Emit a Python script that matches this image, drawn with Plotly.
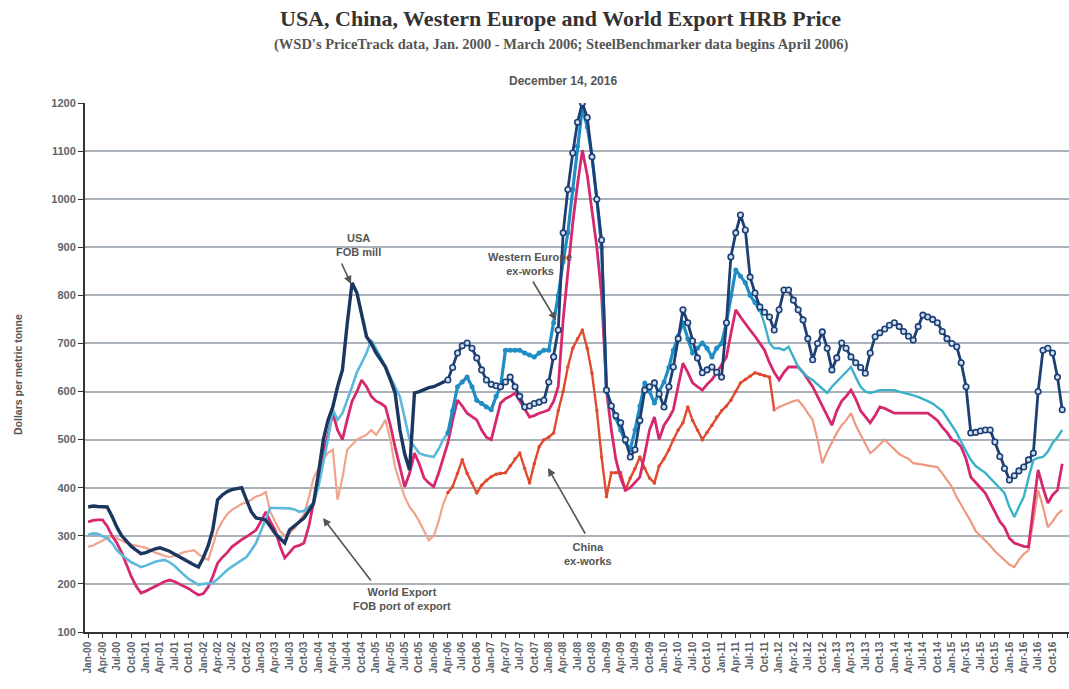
import plotly.graph_objects as go
import pandas as pd

# Monthly values, Jan 2000 - Dec 2016 (US$ per metric tonne)
usa = [
    360, 362, 361, 360, 360, 340, 318, 300, 288, 278, 270, 263,   # 2000
    265, 270, 273, 275, 272, 268, 262, 256, 250, 245, 240, 235,   # 2001
    255, 280, 312, 375, 385, 392, 396, 398, 400, 375, 350, 337,   # 2002
    335, 333, 320, 305, 295, 285, 312, 320, 330, 337, 352, 368,   # 2003
    430, 500, 540, 568, 610, 645, 740, 826, 805, 760, 714, 700,   # 2004
    680, 665, 651, 625, 597, 520, 470, 437, 597, 600, 605, 608,   # 2005
    610, 615, 620, 624, 650, 680, 695, 701, 690, 670, 645, 624,   # 2006
    615, 612, 610, 620, 630, 610, 590, 568, 570, 575, 578, 582,   # 2007
    620, 672, 728, 930, 1020, 1096, 1160, 1200, 1170, 1088, 1000, 915,  # 2008
    603, 570, 550, 535, 500, 464, 479, 540, 603, 610, 618, 595,   # 2009
    568, 610, 651, 710, 770, 743, 705, 670, 639, 645, 651, 640,   # 2010
    630, 743, 880, 930, 967, 936, 838, 805, 776, 765, 755, 728,   # 2011
    770, 811, 811, 790, 770, 749, 710, 666, 700, 724, 690, 645,   # 2012
    670, 701, 690, 672, 660, 650, 638, 680, 714, 722, 730, 738,   # 2013
    743, 735, 725, 715, 707, 735, 759, 755, 750, 743, 725, 710,   # 2014
    700, 693, 660, 610, 514, 515, 518, 520, 520, 495, 465, 440,   # 2015
    416, 425, 435, 443, 458, 472, 600, 686, 690, 680, 630, 562,   # 2016
]

western_europe = [
    302, 305, 304, 300, 295, 285, 270, 260, 252, 245, 240, 235,
    238, 242, 246, 248, 250, 245, 238, 228, 218, 210, 204, 198,
    200, 201, 202, 210, 220, 229, 236, 243, 250, 256, 270, 285,
    310, 335, 358, 358, 358, 358, 357, 355, 350, 352, 360, 368,
    402, 450, 500, 562, 541, 555, 580, 610, 640, 660, 680, 707,
    690, 670, 651, 630, 610, 589, 545, 500, 485, 472, 468, 466,
    464, 480, 500, 514, 560, 610, 620, 630, 610, 582, 575, 568,
    562, 590, 610, 686, 686, 686, 686, 680, 676, 672, 680, 686,
    686, 743, 800, 870, 930, 1020, 1110, 1190, 1150, 1090, 1000, 900,
    600, 570, 545, 520, 495, 479, 520, 570, 618, 600, 576, 600,
    620, 650, 686, 715, 743, 710, 680, 690, 701, 690, 672, 690,
    700, 743, 800, 853, 840, 826, 800, 785, 770, 740, 701, 690,
    690, 686, 693, 670, 651, 640, 630, 624, 615, 605, 597, 610,
    620, 630, 640, 651, 630, 610, 600, 597, 600, 603, 603, 603,
    603, 600, 597, 595, 592, 589, 585, 580, 575, 568, 560, 545,
    530, 514, 495, 475, 458, 445, 438, 431, 420, 410, 400, 389,
    360, 339, 360, 381, 420, 458, 462, 464, 475, 493, 505, 520,
]

world_export = [
    329, 332, 333, 333, 320, 300, 285, 265, 240, 215, 195, 181,
    185, 190, 195, 200, 205, 208, 205, 200, 195, 190, 183, 177,
    180, 194, 215, 243, 255, 265, 277, 285, 292, 298, 305, 312,
    330, 350, 330, 312, 280, 254, 265, 277, 280, 285, 320, 368,
    420, 472, 510, 555, 520, 500, 541, 580, 600, 624, 610, 590,
    580, 575, 568, 530, 485, 440, 402, 430, 472, 450, 420, 410,
    402, 430, 460, 493, 540, 582, 570, 555, 548, 541, 520, 505,
    500, 540, 576, 585, 590, 597, 580, 565, 547, 550, 555, 558,
    562, 580, 610, 749, 850, 950, 1030, 1102, 1050, 980, 900, 800,
    603, 520, 460, 420, 395, 400, 410, 422, 470, 520, 547, 500,
    530, 545, 562, 610, 659, 640, 618, 610, 603, 615, 625, 639,
    655, 672, 720, 770, 755, 740, 728, 715, 700, 686, 660, 640,
    624, 640, 651, 651, 651, 640, 625, 610, 590, 570, 550, 530,
    560, 580, 590, 603, 585, 560, 548, 535, 550, 568, 565, 560,
    555, 555, 555, 555, 555, 555, 555, 555, 548, 540, 526, 515,
    500, 495, 485, 460, 422, 410, 400, 389, 370, 350, 330, 318,
    295, 285, 282, 278, 277, 360, 437, 400, 368, 385, 395, 450,
]

china = [
    277, 280, 285, 290, 295, 298, 295, 290, 285, 282, 280, 277,
    275, 270, 265, 262, 258, 256, 258, 262, 266, 268, 270, 262,
    255, 250, 280, 312, 330, 345, 354, 360, 366, 370, 375, 382,
    385, 391, 350, 330, 310, 300, 305, 315, 330, 345, 380, 420,
    440, 460, 472, 479, 375, 420, 479, 490, 500, 505, 510, 520,
    510, 525, 541, 500, 443, 410, 381, 360, 347, 330, 310, 291,
    300, 330, 365, 390, 402, 430, 458, 430, 410, 389, 405, 415,
    423, 428, 430, 431, 445, 460, 472, 440, 410, 450, 485, 500,
    505, 514, 560, 600, 651, 690, 710, 728, 690, 638, 560, 464,
    381, 431, 431, 431, 395, 420, 440, 464, 440, 420, 410, 445,
    460, 479, 500, 520, 535, 568, 540, 520, 500, 515, 530, 547,
    560, 570, 582, 600, 618, 625, 632, 639, 636, 633, 630, 562,
    568, 572, 576, 580, 582, 570, 555, 541, 500, 451, 475, 495,
    514, 530, 540, 555, 530, 510, 490, 472, 480, 490, 500, 490,
    480, 470, 465, 460, 451, 450, 448, 446, 444, 443, 430, 415,
    402, 380, 365, 348, 330, 310, 300, 291, 280, 268, 258, 250,
    240, 235, 250, 262, 270, 330, 395, 360, 318, 330, 345, 354,
]

dates = pd.date_range("2000-01-01", periods=len(usa), freq="MS")
SB = 75  # April 2006: SteelBenchmarker data begins

fig = go.Figure()


def add(vals, a, b, color, width, marker=None):
    kw = dict(x=dates[a:b], y=vals[a:b], mode="lines", showlegend=False,
              line=dict(color=color, width=width), hoverinfo="x+y")
    if marker:
        kw["mode"] = "lines+markers"
        kw["marker"] = marker
    fig.add_trace(go.Scatter(**kw))


# China
add(china, 0, SB + 1, "#f0a48c", 2.2)
add(china, SB, 144, "#e04a2f", 2.4, dict(size=3.5, color="#e04a2f"))
add(china, 143, len(china), "#ee9a82", 2.2)
# World Export
add(world_export, 0, len(world_export), "#d6286f", 2.8)
# Western Europe
add(western_europe, 0, SB + 1, "#5cb9dc", 2.6)
add(western_europe, SB, 141, "#1e8ec4", 3.2, dict(size=5, color="#1e8ec4"))
add(western_europe, 140, len(western_europe), "#3ab1c9", 2.4)
# USA
add(usa, 0, SB + 1, "#1b365f", 3.4)
add(usa, SB, len(usa), "#1d3f74", 2.8,
    dict(size=5.5, color="#cfe0f2", line=dict(color="#1d3f74", width=1.6)))

L, R, T, B = 85, 1069, 103, 632
W, H = 1069, 689


def P(x, y):
    return (x - L) / (R - L), (B - y) / (B - T)


ann = []


def text(x, y, s, size, family="Liberation Sans", color="#555", angle=0):
    px, py = P(x, y)
    ann.append(dict(x=px, y=py, xref="paper", yref="paper", text=s, showarrow=False,
                    xanchor="center", yanchor="middle", textangle=angle,
                    font=dict(size=size, family=family, color=color, weight="bold")))


def arrow(hx, hy, tx, ty):
    px, py = P(hx, hy)
    ann.append(dict(x=px, y=py, xref="paper", yref="paper", text="", showarrow=True,
                    ax=tx - hx, ay=ty - hy, arrowhead=2, arrowsize=1, arrowwidth=1.6,
                    arrowcolor="#555", standoff=0))


text(560, 18, "USA, China, Western Europe and World Export HRB Price", 22,
     "Liberation Serif", "#333")
text(561, 44, "(WSD's PriceTrack data, Jan. 2000 - March 2006; SteelBenchmarker data begins April 2006)",
     14.5, "Liberation Serif", "#555")
text(563, 81, "December 14, 2016", 12, color="#555")
text(18, 375, "Dollars per metric tonne", 10.5, color="#555", angle=-90)
text(358, 245, "USA<br>FOB mill", 11)
text(530, 264, "Western Europe<br>ex-works", 11)
text(588, 554, "China<br>ex-works", 11)
text(402, 599, "World Export<br>FOB port of export", 11)
arrow(351, 284, 341, 262)
arrow(556, 320, 532, 280)
arrow(548, 468, 586, 535)
arrow(323, 518, 372, 582)

fig.update_layout(
    width=W, height=H, autosize=False,
    margin=dict(l=L, r=W - R, t=T, b=H - B),
    paper_bgcolor="white", plot_bgcolor="white",
    annotations=ann,
    xaxis=dict(type="date", range=["1999-12-12", "2017-01-13"],
               tick0="2000-01-01", dtick="M3", tickformat="%b-%y", tickangle=-90,
               ticks="outside", ticklen=4, tickcolor="#333", showline=True,
               linecolor="#333", linewidth=1.5, showgrid=False, zeroline=False,
               tickfont=dict(size=10, family="Liberation Sans", color="#5d636a", weight="bold")),
    yaxis=dict(range=[100, 1200], dtick=100, tick0=100, showgrid=True,
               gridcolor="#aab1b9", gridwidth=2, showline=True, linecolor="#333",
               linewidth=2, ticks="outside", ticklen=5, tickcolor="#333", zeroline=False,
               tickfont=dict(size=11, family="Liberation Sans", color="#5d636a", weight="bold")),
)

fig.write_html("out.html", config={"displayModeBar": False},
               post_script="document.body.style.margin='0';")
